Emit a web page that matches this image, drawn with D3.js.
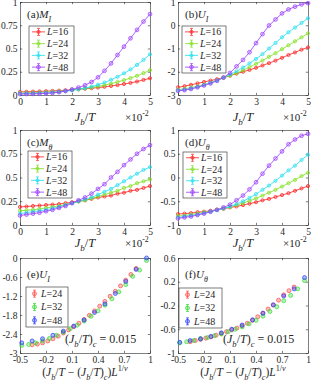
<!DOCTYPE html>
<html><head><meta charset="utf-8">
<script src="https://cdn.jsdelivr.net/npm/d3@7"></script>
<style>
body{margin:0;background:#fff}
svg text{font-family:"Liberation Serif","Times New Roman",serif;fill:#262626}
</style>
</head><body><svg id="c" width="315" height="382"></svg>
<script>
// ---------- data ----------
const jb = [0,0.25,0.5,0.75,1,1.25,1.5,1.75,2,2.25,2.5,2.75,3,3.25,3.5,3.75,4,4.25,4.5,4.75,5];
const sizesTop = ["16","24","32","48"];
const sizesBot = ["24","32","48"];

const MI_16 = [0.033,0.035,0.037,0.039,0.041,0.044,0.047,0.051,0.056,0.061,0.067,0.073,0.080,0.088,0.097,0.107,0.118,0.130,0.145,0.162,0.180];
const MI_24 = [0.022,0.024,0.026,0.028,0.031,0.035,0.040,0.046,0.053,0.061,0.070,0.080,0.092,0.106,0.122,0.140,0.160,0.182,0.206,0.235,0.268];
const MI_32 = [0.015,0.016,0.018,0.020,0.023,0.027,0.033,0.040,0.050,0.061,0.074,0.090,0.110,0.134,0.163,0.196,0.233,0.275,0.323,0.378,0.438];
const MI_48 = [0.010,0.011,0.012,0.014,0.017,0.022,0.030,0.043,0.060,0.080,0.105,0.140,0.190,0.260,0.340,0.430,0.520,0.610,0.700,0.790,0.870];

const UI_16 = [-2.67,-2.62,-2.56,-2.50,-2.44,-2.38,-2.32,-2.25,-2.17,-2.08,-2.00,-1.92,-1.83,-1.73,-1.63,-1.52,-1.40,-1.28,-1.17,-1.05,-0.95];
const UI_24 = [-2.77,-2.73,-2.68,-2.62,-2.55,-2.47,-2.36,-2.26,-2.16,-2.06,-1.94,-1.80,-1.66,-1.52,-1.36,-1.20,-1.03,-0.86,-0.69,-0.52,-0.35];
const UI_32 = [-2.80,-2.77,-2.72,-2.65,-2.57,-2.48,-2.38,-2.25,-2.12,-1.98,-1.82,-1.64,-1.45,-1.24,-1.00,-0.76,-0.52,-0.30,-0.10,0.10,0.30];
const UI_48 = [-2.82,-2.79,-2.74,-2.67,-2.59,-2.50,-2.39,-2.25,-2.05,-1.77,-1.49,-1.16,-0.77,-0.38,-0.01,0.25,0.51,0.68,0.80,0.90,0.95];

const MT_16 = [0.19,0.195,0.20,0.205,0.21,0.215,0.22,0.23,0.24,0.25,0.26,0.275,0.29,0.30,0.31,0.33,0.34,0.36,0.37,0.39,0.41];
const MT_24 = [0.15,0.155,0.16,0.17,0.18,0.19,0.20,0.215,0.23,0.245,0.26,0.28,0.30,0.32,0.34,0.36,0.39,0.41,0.44,0.46,0.48];
const MT_32 = [0.12,0.13,0.14,0.15,0.16,0.175,0.19,0.21,0.23,0.25,0.27,0.29,0.32,0.35,0.38,0.42,0.46,0.50,0.54,0.58,0.61];
const MT_48 = [0.10,0.11,0.12,0.13,0.145,0.16,0.18,0.20,0.23,0.26,0.29,0.33,0.38,0.43,0.50,0.56,0.63,0.69,0.75,0.80,0.84];

const UT_16 = [-0.77,-0.76,-0.75,-0.73,-0.72,-0.70,-0.68,-0.66,-0.63,-0.61,-0.58,-0.55,-0.52,-0.48,-0.45,-0.41,-0.37,-0.33,-0.28,-0.23,-0.18];
const UT_24 = [-0.81,-0.80,-0.78,-0.76,-0.73,-0.71,-0.68,-0.65,-0.62,-0.58,-0.54,-0.49,-0.44,-0.38,-0.32,-0.26,-0.19,-0.12,-0.05,0.03,0.10];
const UT_32 = [-0.84,-0.82,-0.80,-0.78,-0.75,-0.72,-0.69,-0.65,-0.61,-0.56,-0.50,-0.43,-0.35,-0.26,-0.17,-0.07,0.04,0.15,0.25,0.37,0.48];
const UT_48 = [-0.86,-0.84,-0.82,-0.79,-0.76,-0.72,-0.68,-0.63,-0.57,-0.48,-0.38,-0.25,-0.10,0.08,0.25,0.40,0.55,0.70,0.80,0.88,0.92];

// scaling-collapse abscissae (J_b/T-(J_b/T)_c)L^{1/nu}
const xs_24 = [-0.36,-0.30,-0.24,-0.18,-0.12,-0.06,0,0.06,0.12,0.18,0.24,0.30,0.36,0.42,0.48,0.54,0.60,0.66,0.72,0.78,0.84];
const xs_32 = [-0.48,-0.40,-0.32,-0.24,-0.16,-0.08,0,0.08,0.16,0.24,0.32,0.40,0.48,0.56,0.64,0.72,0.80,0.88,0.96];
const xs_48 = [-0.48,-0.36,-0.24,-0.12,0,0.12,0.24,0.36,0.48,0.60,0.72,0.84,0.96];

const eU_24 = [-2.74,-2.72,-2.68,-2.62,-2.55,-2.47,-2.37,-2.27,-2.17,-2.06,-1.94,-1.81,-1.67,-1.52,-1.37,-1.21,-1.05,-0.88,-0.70,-0.52,-0.33];
const eU_32 = [-2.76,-2.73,-2.68,-2.62,-2.54,-2.44,-2.34,-2.23,-2.12,-1.99,-1.84,-1.67,-1.49,-1.29,-1.07,-0.84,-0.58,-0.38,-0.08];
const eU_48 = [-2.68,-2.62,-2.55,-2.44,-2.31,-2.15,-1.96,-1.72,-1.45,-1.12,-0.74,-0.36,0.0];

const fU_24 = [-0.81,-0.79,-0.77,-0.75,-0.73,-0.70,-0.67,-0.64,-0.61,-0.58,-0.54,-0.50,-0.45,-0.39,-0.33,-0.26,-0.19,-0.11,-0.02,0.05,0.11];
const fU_32 = [-0.83,-0.81,-0.79,-0.76,-0.74,-0.71,-0.68,-0.64,-0.60,-0.56,-0.51,-0.45,-0.38,-0.30,-0.22,-0.12,-0.03,0.08,0.22];
const fU_48 = [-0.82,-0.79,-0.76,-0.72,-0.66,-0.60,-0.53,-0.44,-0.33,-0.19,-0.04,0.08,0.27];

const xTicksTop = [0,1,2,3,4,5];
const xTicksBot = [-0.5,-0.2,0.1,0.4,0.7,1];
const yTicksM = [0,0.25,0.5,0.75,1];
const yTicksUI = [-3,-2,-1,0,1];
const yTicksUT = [-1,-0.5,0,0.5,1];
const yTicksE = [-3,-2.4,-1.8,-1.2,-0.6,0];
const yTicksF = [-1,-0.6,-0.2,0.2,0.6];

// ---------- drawing ----------
const svg = d3.select("#c");
const AX = "#262626";
const colTop = ["#ff2020","#80e020","#20e0f0","#9a3cff"];
const colBot = ["#ff4848","#30dd30","#2a3cff"];

function rich(sel, x, y, parts, fs, anchor){
  const t = sel.append("text").attr("x",x).attr("y",y).attr("font-size",fs)
    .attr("text-anchor",anchor||"start");
  let cur = 0;
  parts.forEach(p=>{
    const target = p.sub ? fs*0.32 : (p.sup ? -fs*0.42 : 0);
    const ts = t.append("tspan").text(p.t);
    if (target !== cur){ ts.attr("dy", target-cur); cur = target; }
    if (p.sub||p.sup) ts.attr("font-size", fs*0.72);
    if (p.it) ts.attr("font-style","italic");
  });
  return t;
}

const cols = [{l:20,r:150},{l:178,r:308}];
const rows = [{t:2,b:95},{t:130,b:225},{t:258,b:353}];

function panel(o){
  const c = cols[o.col], rw = rows[o.row];
  const x = d3.scaleLinear().domain(o.xdom).range([c.l,c.r]);
  const y = d3.scaleLinear().domain(o.ydom).range([rw.b,rw.t]);
  const g = svg.append("g");
  const fmt = d=>String(d);
  const st = s=>{ s.select(".domain").attr("stroke",AX).attr("stroke-width",0.6);
    s.selectAll(".tick line").attr("stroke",AX).attr("stroke-width",0.6);
    s.selectAll("text").attr("font-family",null).attr("font-size",9.5).attr("fill",AX); };
  g.append("g").attr("transform",`translate(0,${rw.b})`)
    .call(d3.axisBottom(x).tickValues(o.xticks).tickFormat(fmt).tickSizeInner(-2.2).tickSizeOuter(0).tickPadding(3.5)).call(st);
  g.append("g").attr("transform",`translate(0,${rw.t})`)
    .call(d3.axisTop(x).tickValues(o.xticks).tickFormat("").tickSizeInner(-2.2).tickSizeOuter(0)).call(st);
  g.append("g").attr("transform",`translate(${c.l},0)`)
    .call(d3.axisLeft(y).tickValues(o.yticks).tickFormat(fmt).tickSizeInner(-2.2).tickSizeOuter(0).tickPadding(2.5)).call(st);
  g.append("g").attr("transform",`translate(${c.r},0)`)
    .call(d3.axisRight(y).tickValues(o.yticks).tickFormat("").tickSizeInner(-2.2).tickSizeOuter(0)).call(st);

  // series
  o.series.forEach(s=>{
    if (s.line){
      g.append("path").datum(d3.zip(s.x,s.y))
        .attr("d", d3.line().x(d=>x(d[0])).y(d=>y(d[1])))
        .attr("fill","none").attr("stroke",s.color).attr("stroke-width",0.8);
    }
    g.selectAll(null).data(d3.zip(s.x,s.y)).join("circle")
      .attr("cx",d=>x(d[0])).attr("cy",d=>y(d[1])).attr("r",s.r)
      .attr("fill",s.fill).attr("fill-opacity",s.fo).attr("stroke",s.color).attr("stroke-width",0.7);
  });

  // title
  rich(g, c.l+7, o.row===0?18:(o.row===1?146:278), o.title, 11);

  // legend
  const L = o.legend;
  g.append("rect").attr("x",L.x).attr("y",L.y).attr("width",L.w).attr("height",L.h)
    .attr("fill","#fff").attr("stroke",AX).attr("stroke-width",0.6);
  const n = o.series.length, step = L.h/n;
  o.series.forEach((s,i)=>{
    const cy = L.y + step*(i+0.5);
    if (s.line){
      g.append("line").attr("x1",L.x+3).attr("x2",L.x+16).attr("y1",cy).attr("y2",cy)
        .attr("stroke",s.color).attr("stroke-width",0.8);
    }
    const mx = s.line ? L.x+9.5 : L.x+8.5;
    g.append("line").attr("x1",mx).attr("x2",mx).attr("y1",cy-3.5).attr("y2",cy+3.5).attr("stroke",s.color).attr("stroke-width",0.7);
    g.append("line").attr("x1",mx-1.5).attr("x2",mx+1.5).attr("y1",cy-3.5).attr("y2",cy-3.5).attr("stroke",s.color).attr("stroke-width",0.7);
    g.append("line").attr("x1",mx-1.5).attr("x2",mx+1.5).attr("y1",cy+3.5).attr("y2",cy+3.5).attr("stroke",s.color).attr("stroke-width",0.7);
    g.append("circle").attr("cx",mx).attr("cy",cy).attr("r",s.r).attr("fill",s.fill).attr("fill-opacity",s.fo)
      .attr("stroke",s.color).attr("stroke-width",0.7);
    rich(g, s.line ? L.x+18 : L.x+15, cy+3.4, [{t:"L",it:1},{t:"="+s.name}], 10);
  });

  // x label
  const xl = o.row<2 ? 121 - (o.row===1? -126:0) : 376;
  if (o.row<2){
    rich(g, (c.l+c.r)/2, o.row===0?121:247, [{t:"J",it:1},{t:"b",it:1,sub:1},{t:"/"},{t:"T",it:1}], 12.5, "middle");
    rich(g, c.r-25, o.row===0?121:247, [{t:"×10"},{t:"-2",sup:1}], 11);
  } else {
    rich(g, (c.l+c.r)/2, 376, [{t:"("},{t:"J",it:1},{t:"b",it:1,sub:1},{t:"/"},{t:"T",it:1},{t:" − ("},
      {t:"J",it:1},{t:"b",it:1,sub:1},{t:"/"},{t:"T",it:1},{t:")"},{t:"c",it:1,sub:1},{t:")"},{t:"L",it:1},
      {t:"1/",sup:1},{t:"ν",it:1,sup:1}], 11.5, "middle");
    rich(g, c.l+45, 343, [{t:"("},{t:"J",it:1},{t:"b",it:1,sub:1},{t:"/"},{t:"T",it:1},{t:")"},{t:"c",it:1,sub:1},
      {t:" = 0.015"}], 12);
  }
}

function topSeries(arrs){
  return arrs.map((a,i)=>({x:jb, y:a, color:colTop[i], name:sizesTop[i], line:true,
    r: i===3?1.9:1.6, fill:colTop[i], fo:0.25}));
}
function botSeries(xa, ya){
  return ya.map((a,i)=>({x:xa[i], y:a, color:colBot[i], name:sizesBot[i], line:false,
    r:2.0, fill:colBot[i], fo:0.35}));
}

panel({row:0,col:0,xdom:[0,5],ydom:[0,1],xticks:xTicksTop,yticks:yTicksM,
  series:topSeries([MI_16,MI_24,MI_32,MI_48]),
  title:[{t:"(a)"},{t:"M",it:1},{t:"I",it:1,sub:1}], legend:{x:29,y:26,w:45,h:47}});
panel({row:0,col:1,xdom:[0,5],ydom:[-3,1],xticks:xTicksTop,yticks:yTicksUI,
  series:topSeries([UI_16,UI_24,UI_32,UI_48]),
  title:[{t:"(b)"},{t:"U",it:1},{t:"I",it:1,sub:1}], legend:{x:182,y:26,w:44,h:47}});
panel({row:1,col:0,xdom:[0,5],ydom:[0,1],xticks:xTicksTop,yticks:yTicksM,
  series:topSeries([MT_16,MT_24,MT_32,MT_48]),
  title:[{t:"(c)"},{t:"M",it:1},{t:"θ",it:1,sub:1}], legend:{x:28,y:151,w:44,h:47}});
panel({row:1,col:1,xdom:[0,5],ydom:[-1,1],xticks:xTicksTop,yticks:yTicksUT,
  series:topSeries([UT_16,UT_24,UT_32,UT_48]),
  title:[{t:"(d)"},{t:"U",it:1},{t:"θ",it:1,sub:1}], legend:{x:183,y:152,w:44,h:46}});
panel({row:2,col:0,xdom:[-0.5,1],ydom:[-3,0],xticks:xTicksBot,yticks:yTicksE,
  series:botSeries([xs_24,xs_32,xs_48],[eU_24,eU_32,eU_48]),
  title:[{t:"(e)"},{t:"U",it:1},{t:"I",it:1,sub:1}], legend:{x:26,y:287,w:42,h:40}});
panel({row:2,col:1,xdom:[-0.5,1],ydom:[-1,0.6],xticks:xTicksBot,yticks:yTicksF,
  series:botSeries([xs_24,xs_32,xs_48],[fU_24,fU_32,fU_48]),
  title:[{t:"(f)"},{t:"U",it:1},{t:"θ",it:1,sub:1}], legend:{x:179,y:288,w:43,h:40}});
</script>
</body></html>
